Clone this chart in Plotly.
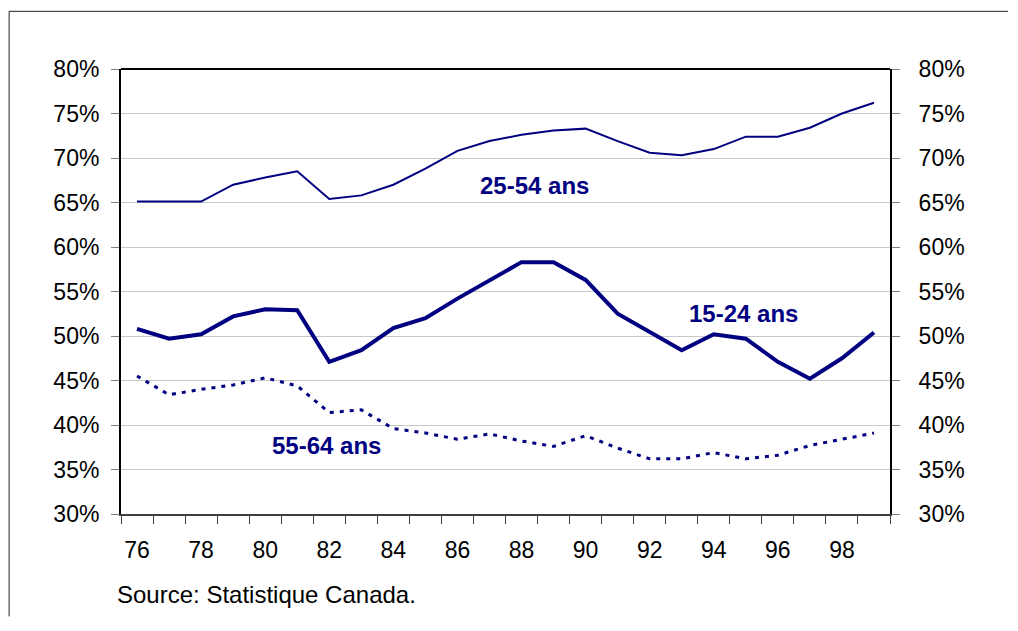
import plotly.graph_objects as go

years = list(range(76, 100))
tick_years = [76, 78, 80, 82, 84, 86, 88, 90, 92, 94, 96, 98]
tick_labels = [str(y) for y in tick_years]

age_25_54 = [65.1, 65.1, 65.1, 67.0, 67.8, 68.5, 65.4, 65.8, 67.0, 68.8, 70.8, 71.9,
             72.6, 73.1, 73.3, 71.9, 70.6, 70.3, 71.0, 72.4, 72.4, 73.4, 75.0, 76.2]
age_15_24 = [50.8, 49.7, 50.2, 52.2, 53.0, 52.9, 47.1, 48.4, 50.9, 52.0, 54.2, 56.3,
             58.3, 58.3, 56.3, 52.5, 50.5, 48.4, 50.2, 49.7, 47.1, 45.2, 47.5, 50.4]
age_55_64 = [45.5, 43.4, 44.0, 44.5, 45.3, 44.4, 41.4, 41.7, 39.6, 39.1, 38.4, 39.0,
             38.2, 37.6, 38.8, 37.4, 36.2, 36.2, 36.9, 36.2, 36.6, 37.7, 38.4, 39.1]

navy = "#000080"
font_family = "Arial, 'Liberation Sans', sans-serif"

fig = go.Figure()
fig.add_trace(go.Scatter(x=years, y=age_25_54, mode="lines",
                         line=dict(color=navy, width=2), showlegend=False))
fig.add_trace(go.Scatter(x=years, y=age_15_24, mode="lines",
                         line=dict(color=navy, width=4), showlegend=False))
fig.add_trace(go.Scatter(x=years, y=age_55_64, mode="lines",
                         line=dict(color=navy, width=3, dash="4px,6px"), showlegend=False))
# invisible trace to activate the right axis
fig.add_trace(go.Scatter(x=[years[0]], y=[age_25_54[0]], yaxis="y2", mode="lines",
                         line=dict(width=0), hoverinfo="skip", showlegend=False))

fig.update_layout(
    width=1000, height=612,
    margin=dict(l=113, r=118, t=61, b=106),
    paper_bgcolor="white", plot_bgcolor="white",
    font=dict(family=font_family, color="black"),
    xaxis=dict(range=[75.5, 99.5], tickmode="array", tickvals=tick_years, ticktext=tick_labels,
               ticks="", showgrid=False, zeroline=False,
               showline=True, linecolor="#404040", linewidth=2,
               tickfont=dict(size=23), ticklabelstandoff=14,
               minor=dict(tick0=75.5, dtick=1, ticks="outside", ticklen=8,
                          tickcolor="#404040", tickwidth=1, showgrid=False)),
    yaxis=dict(range=[30, 80], tickmode="linear", tick0=30, dtick=5, ticksuffix="%",
               ticks="outside", ticklen=8, tickcolor="#808080", tickwidth=1,
               showgrid=True, gridcolor="#c8c8c8", gridwidth=1, zeroline=False,
               showline=True, linecolor="black", linewidth=2,
               tickfont=dict(size=23), ticklabelstandoff=7),
    yaxis2=dict(range=[30, 80], tickmode="linear", tick0=30, dtick=5, ticksuffix="%",
                overlaying="y", side="right",
                ticks="outside", ticklen=8, tickcolor="#808080", tickwidth=1,
                showgrid=False, zeroline=False,
                showline=True, linecolor="black", linewidth=2,
                tickfont=dict(size=23), ticklabelstandoff=14),
    shapes=[
        dict(type="line", xref="paper", yref="paper", x0=0, x1=1, y0=1, y1=1,
             line=dict(color="black", width=2)),
        dict(type="line", xref="paper", yref="paper", x0=-0.1455, x1=-0.1455, y0=-0.23, y1=1.1296,
             line=dict(color="#222222", width=1)),
        dict(type="line", xref="paper", yref="paper", x0=-0.1455, x1=1.16, y0=1.1296, y1=1.1296,
             line=dict(color="#222222", width=1)),
    ],
    annotations=[
        dict(x=88.4, y=66.9, text="<b>25-54 ans</b>", showarrow=False,
             font=dict(size=24, color=navy)),
        dict(x=94.94, y=52.5, text="<b>15-24 ans</b>", showarrow=False,
             font=dict(size=24, color=navy)),
        dict(x=81.92, y=37.7, text="<b>55-64 ans</b>", showarrow=False,
             font=dict(size=24, color=navy)),
        dict(x=-0.0082, y=-0.18, xref="paper", yref="paper", xanchor="left", yanchor="middle",
             text="Source: Statistique Canada.", showarrow=False,
             font=dict(size=24, color="black")),
    ],
)

fig.write_html("out.html")
